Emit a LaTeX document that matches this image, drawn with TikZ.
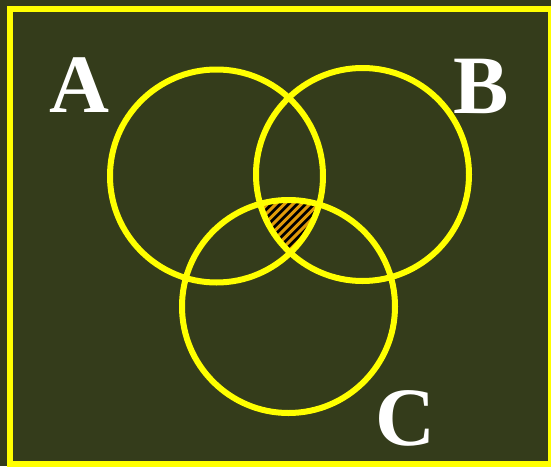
\documentclass[tikz,border=0pt]{standalone}
\usepackage{fontspec}
\setmainfont{Liberation Serif}
\usepackage{xcolor}
\usepackage{tikz}
\definecolor{board}{RGB}{52,60,27}
\definecolor{vennyellow}{RGB}{255,255,0}
\definecolor{hatchorange}{RGB}{225,155,10}

\begin{document}
\begin{tikzpicture}[
  x=1pt, y=-1pt,
  ring/.style={draw=vennyellow, line width=6pt},
  setlabel/.style={text=white, font=\fontsize{83}{83}\selectfont\bfseries,
                   inner sep=0pt},
  hatch/.style={draw=hatchorange, line width=3pt},
]
  \useasboundingbox (0,0) rectangle (551,466);
  \fill[board] (0,0) rectangle (551,466);
  \draw[vennyellow, line width=6pt] (9.7,8.5) rectangle (551,464);

  % shaded region A and B and C
  \begin{scope}
    \clip (216.5,176) circle (106.5);
    \clip (362.5,174.5) circle (106.5);
    \clip (288.5,306.5) circle (106.5);
    \fill[black] (240,180) rectangle (340,280);
    \foreach \i in {-14,...,14}
      \draw[hatch] (289+\i*8.5-70,225+70) -- (289+\i*8.5+70,225-70);
  \end{scope}

  \draw[ring] (216.5,176)   circle (106.5);
  \draw[ring] (362.5,174.5) circle (106.5);
  \draw[ring] (288.5,306.5) circle (106.5);

  \node[setlabel] (labA) at (79,85)  {A};
  \node[setlabel] (labB) at (481,86) {B};
  \node[setlabel] (labC) at (405,418) {C};
\end{tikzpicture}
\end{document}
